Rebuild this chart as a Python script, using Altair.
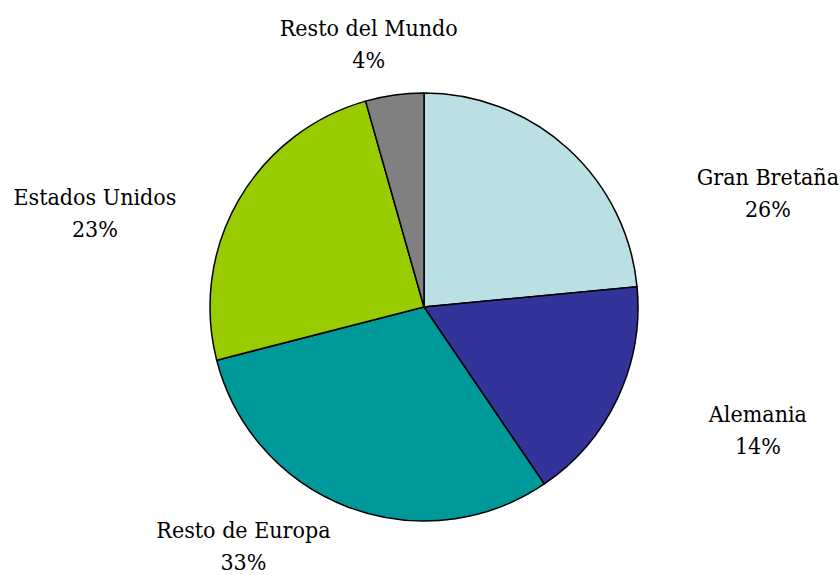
import math
import altair as alt
import pandas as pd

# --- data ---
categories = ["Gran Bretaña", "Alemania", "Resto de Europa", "Estados Unidos", "Resto del Mundo"]
slice_shares = [23.5, 17.0, 30.5, 24.6, 4.4]          # measured slice sizes (%)
label_pcts = ["26%", "14%", "33%", "23%", "4%"]       # printed labels
colors = ["#BBE0E3", "#333399", "#009999", "#99CC00", "#808080"]

# --- layout (label placement around the pie, degrees clockwise from top, px from centre) ---
label_angle = [71.8, 110.3, 217.0, 285.8, 348.1]
label_dist = [362, 356, 300, 342, 268]

pie_df = pd.DataFrame({
    "cat": categories,
    "share": slice_shares,
    "order": list(range(len(categories))),
})
lab_df = pd.DataFrame({
    "cat": categories,
    "text": [f"{c}\n{p}" for c, p in zip(categories, label_pcts)],
    "ang": label_angle,
    "dist": label_dist,
})

pie = alt.Chart(pie_df).mark_arc(
    outerRadius=214, stroke="black", strokeWidth=1.5
).encode(
    theta=alt.Theta("share:Q", stack=True),
    order=alt.Order("order:Q"),
    color=alt.Color("cat:N", scale=alt.Scale(domain=categories, range=colors), legend=None),
)

labels = alt.Chart(lab_df).mark_text(
    font="DejaVu Serif Condensed", fontSize=23, lineHeight=32, color="black",
    align="center", baseline="middle", lineBreak="\n", dy=-16
).encode(
    theta=alt.Theta("ang:Q", stack=None, scale=alt.Scale(domain=[0, 360], range=[0, 2 * math.pi])),
    radius=alt.Radius("dist:Q", scale=None),
    text="text:N",
)

chart = alt.layer(pie, labels).resolve_scale(
    theta="independent", radius="independent"
).properties(
    width=800, height=536,
    padding={"left": 24, "top": 39, "right": 16, "bottom": 0},
    autosize=alt.AutoSizeParams(type="none"),
    background="white",
).configure_view(stroke=None)

chart.save("out.html", embed_options={"renderer": "svg", "actions": False})
